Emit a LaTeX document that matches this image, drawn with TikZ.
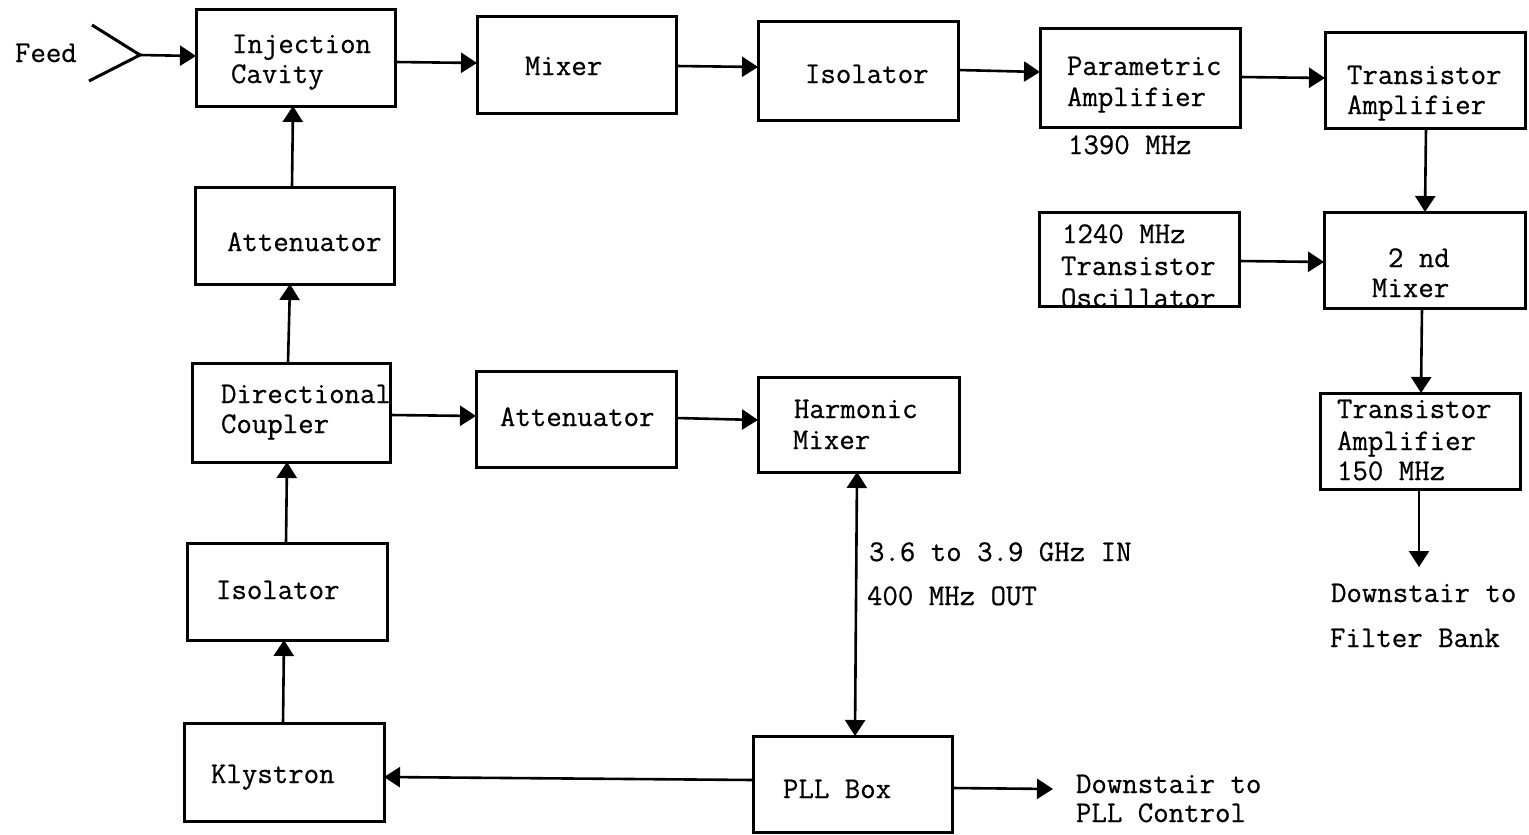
\documentclass[tikz,border=0pt]{standalone}
\usepackage{fontspec}
\usetikzlibrary{arrows.meta}
\newfontfamily\twfont{Latin Modern Mono}[FakeBold=0.6]
\tikzset{
  x=1pt,y=-1pt,
  block/.style={draw=black,line width=3pt,fill=none},
  lbl/.style={anchor=base west,inner sep=0pt,outer sep=0pt,font=\fontsize{30}{32}\selectfont\twfont},
  conn/.style={draw=black,line width=2.6pt,-{Triangle[length=16pt,width=20pt]}},
  dconn/.style={draw=black,line width=2.6pt,{Triangle[length=16pt,width=20pt]}-{Triangle[length=16pt,width=20pt]}},
  feedline/.style={draw=black,line width=3pt}
}
\newcommand{\boxat}[5]{\node[block,inner sep=0pt,outer sep=0pt,minimum width={(#4-#2)*1pt},minimum height={(#5-#3)*1pt},anchor=north west] (#1) at (#2,#3) {};}
\begin{document}
\begin{tikzpicture}
\useasboundingbox (0,0) rectangle (1529,835);
\boxat{inj}{196}{9}{395}{106}
\boxat{mix}{477}{16}{676}{113}
\boxat{iso}{758}{21}{958}{120}
\boxat{par}{1040}{28}{1240}{127}
\boxat{ta}{1325}{32}{1525}{128}
\boxat{osc}{1039}{212}{1239}{306}
\boxat{mixb}{1324}{212}{1525}{308}
\boxat{tb}{1320}{393}{1520}{489}
\boxat{ata}{195}{187}{394}{284}
\boxat{dc}{192}{363}{390}{462}
\boxat{atb}{476}{371}{676}{467}
\boxat{har}{758}{377}{959}{472}
\boxat{isb}{187}{543}{387}{640}
\boxat{kly}{184}{723}{384}{821}
\boxat{pll}{753}{736}{952}{832}
\node[lbl] (t1) at (15,62) {Feed};
\node[lbl] (t2) at (232,53) {Injection};
\node[lbl] (t3) at (231,83) {Cavity};
\node[lbl] (t4) at (525,75) {Mixer};
\node[lbl] (t5) at (805,83) {Isolator};
\node[lbl] (t6) at (1067,75) {Parametric};
\node[lbl] (t7) at (1067,106) {Amplifier};
\node[lbl] (t8) at (1068,154) {1390 MHz};
\node[lbl] (t9) at (1347,84) {Transistor};
\node[lbl] (t10) at (1347,114) {Amplifier};
\node[lbl] (t11) at (1062,243) {1240 MHz};
\node[lbl] (t12) at (1061,275) {Transistor};
\node[lbl] (t13) at (1061,307) {Oscillator};
\node[lbl] (t14) at (1388,267) {2 nd};
\node[lbl] (t15) at (1372,297) {Mixer};
\node[lbl] (t16) at (1337,418) {Transistor};
\node[lbl] (t17) at (1337,450) {Amplifier};
\node[lbl] (t18) at (1337,480) {150 MHz};
\node[lbl] (t19) at (227,251) {Attenuator};
\node[lbl] (t20) at (221,403) {Directional};
\node[lbl] (t21) at (221,433) {Coupler};
\node[lbl] (t22) at (500,426) {Attenuator};
\node[lbl] (t23) at (794,418) {Harmonic};
\node[lbl] (t24) at (793,449) {Mixer};
\node[lbl] (t25) at (216,599) {Isolator};
\node[lbl] (t26) at (211,783) {Klystron};
\node[lbl] (t27) at (783,798) {PLL Box};
\node[lbl] (t28) at (869,561) {3.6 to 3.9 GHz IN};
\node[lbl] (t29) at (867,605) {400 MHz OUT};
\node[lbl] (t30) at (1331,602) {Downstair to};
\node[lbl] (t31) at (1330,647) {Filter Bank};
\node[lbl] (t32) at (1076,793) {Downstair to};
\node[lbl] (t33) at (1076,822) {PLL Control};
\coordinate (fa) at (92,25);
\coordinate (fb) at (89,81);
\coordinate (fc) at (140,55);
\coordinate (dn) at (1419,567);
\coordinate (pc) at (1053,789);
\draw[feedline] (fa) -- (fc) -- (fb);
\draw[conn] (fc) -- (inj.west |- 0,56);
\draw[conn] (inj.east |- 0,62) -- (mix.west |- 0,63);
\draw[conn] (mix.east |- 0,66) -- (iso.west |- 0,67);
\draw[conn] (iso.east |- 0,70) -- (par.west |- 0,72);
\draw[conn] (par.east |- 0,77) -- (ta.west |- 0,78);
\draw[conn] (1426,0 |- ta.south) -- (1425,0 |- mixb.north);
\draw[conn] (osc.east |- 0,261) -- (mixb.west |- 0,262);
\draw[conn] (1422,0 |- mixb.south) -- (1421,0 |- tb.north);
\draw[conn] (1419,0 |- tb.south) -- (dn);
\draw[conn] (292,0 |- ata.north) -- (293,0 |- inj.south);
\draw[conn] (288,0 |- dc.north) -- (290,0 |- ata.south);
\draw[conn] (286,0 |- isb.north) -- (287,0 |- dc.south);
\draw[conn] (283,0 |- kly.north) -- (284,0 |- isb.south);
\draw[conn] (dc.east |- 0,415) -- (atb.west |- 0,416);
\draw[conn] (atb.east |- 0,418) -- (har.west |- 0,420);
\draw[dconn] (857,0 |- har.south) -- (855,0 |- pll.north);
\draw[conn] (pll.west |- 0,780) -- (kly.east |- 0,777);
\draw[conn] (pll.east |- 0,788) -- (pc);
\end{tikzpicture}
\end{document}
